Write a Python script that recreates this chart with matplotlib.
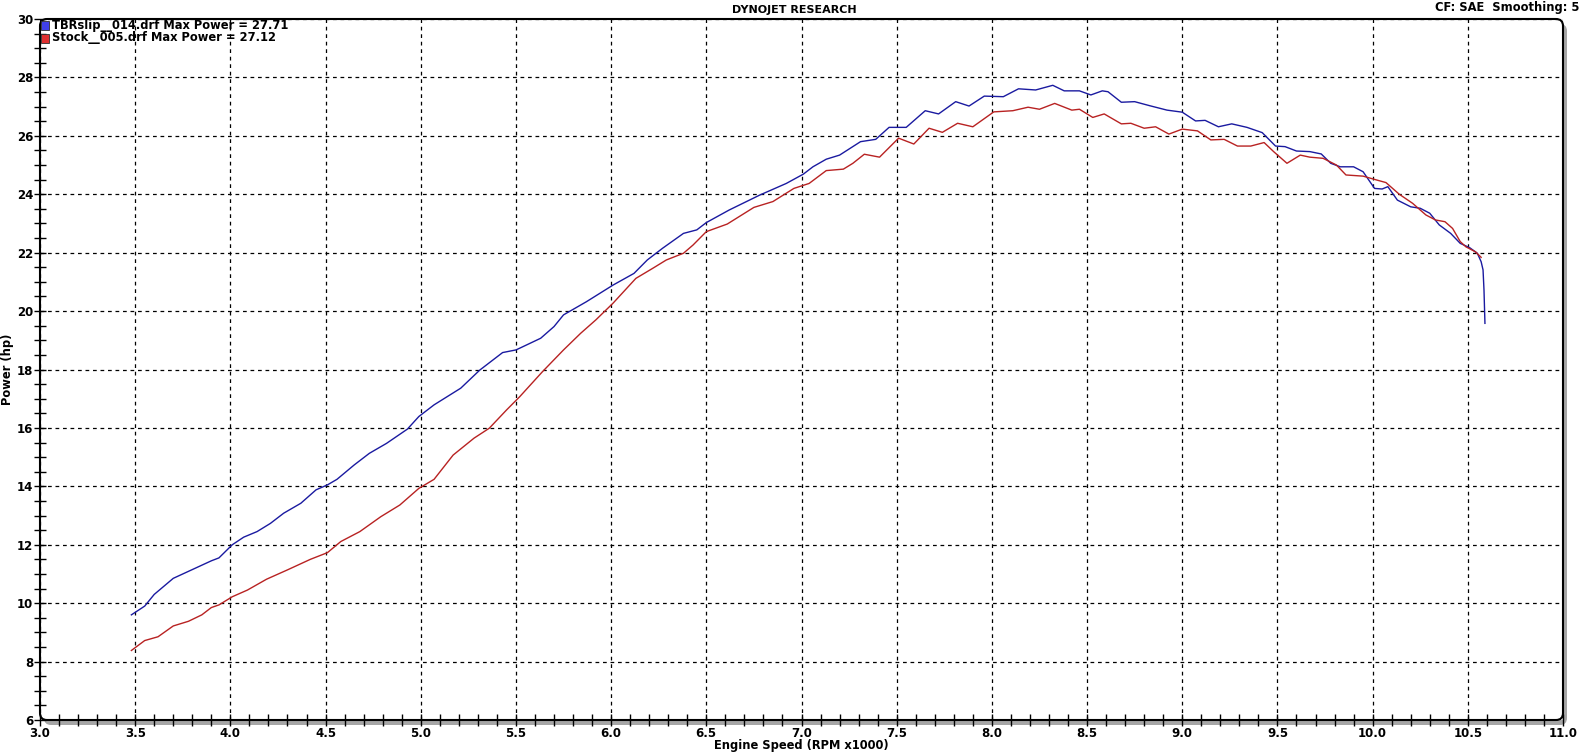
import matplotlib
matplotlib.use("Agg")
import matplotlib.pyplot as plt
from matplotlib.patches import FancyBboxPatch, Rectangle
from matplotlib.ticker import MultipleLocator, FormatStrFormatter
from matplotlib.transforms import IdentityTransform

# Dados (rpm x1000, potencia em hp)
rpm_tbr = [3.48, 3.55, 3.60, 3.70, 3.80, 3.90, 3.94, 4.01, 4.07, 4.14, 4.21, 4.28, 4.37, 4.45,
           4.51, 4.56, 4.65, 4.73, 4.82, 4.93, 4.99, 5.07, 5.21, 5.31, 5.38, 5.43, 5.50, 5.52,
           5.63, 5.70, 5.75, 5.87, 6.01, 6.12, 6.19, 6.27, 6.38, 6.45, 6.50, 6.62, 6.78, 6.92,
           7.01, 7.06, 7.13, 7.20, 7.31, 7.39, 7.46, 7.55, 7.65, 7.72, 7.81, 7.88, 7.96, 8.06,
           8.14, 8.23, 8.32, 8.38, 8.46, 8.52, 8.58, 8.61, 8.68, 8.75, 8.83, 8.92, 9.00, 9.07,
           9.12, 9.19, 9.26, 9.34, 9.42, 9.49, 9.54, 9.60, 9.67, 9.73, 9.78, 9.83, 9.90, 9.95,
           10.01, 10.05, 10.08, 10.13, 10.20, 10.25, 10.30, 10.35, 10.41, 10.46, 10.51, 10.55,
           10.57, 10.58, 10.585, 10.59]
hp_tbr = [9.60, 9.90, 10.30, 10.85, 11.15, 11.45, 11.55, 12.00, 12.26, 12.45, 12.73, 13.08, 13.42, 13.88,
          14.05, 14.24, 14.73, 15.13, 15.47, 15.96, 16.39, 16.79, 17.36, 17.98, 18.33, 18.58, 18.67, 18.73,
          19.07, 19.47, 19.87, 20.32, 20.89, 21.29, 21.75, 22.15, 22.66, 22.78, 23.03, 23.46, 23.97, 24.37,
          24.69, 24.94, 25.20, 25.34, 25.80, 25.88, 26.29, 26.29, 26.86, 26.75, 27.17, 27.02, 27.36, 27.34,
          27.61, 27.57, 27.73, 27.54, 27.54, 27.40, 27.54, 27.51, 27.15, 27.17, 27.03, 26.88, 26.81, 26.51,
          26.53, 26.31, 26.41, 26.29, 26.11, 25.65, 25.63, 25.48, 25.46, 25.38, 25.06, 24.94, 24.94, 24.77,
          24.20, 24.18, 24.26, 23.80, 23.57, 23.52, 23.35, 22.95, 22.66, 22.32, 22.17, 21.98,
          21.69, 21.41, 20.72, 19.58]

rpm_stock = [3.48, 3.55, 3.62, 3.70, 3.78, 3.85, 3.90, 3.94, 4.01, 4.09, 4.19, 4.30, 4.42, 4.51,
             4.58, 4.68, 4.79, 4.89, 4.99, 5.07, 5.17, 5.28, 5.36, 5.45, 5.52, 5.64, 5.75, 5.84,
             5.92, 6.01, 6.13, 6.22, 6.29, 6.38, 6.43, 6.50, 6.61, 6.75, 6.85, 6.96, 7.04, 7.13,
             7.22, 7.27, 7.33, 7.41, 7.51, 7.59, 7.67, 7.74, 7.82, 7.90, 8.01, 8.11, 8.19, 8.25,
             8.33, 8.42, 8.46, 8.53, 8.59, 8.68, 8.73, 8.80, 8.86, 8.93, 9.00, 9.08, 9.15, 9.22,
             9.29, 9.36, 9.43, 9.48, 9.55, 9.62, 9.67, 9.74, 9.81, 9.86, 9.95, 10.02, 10.07, 10.14,
             10.21, 10.28, 10.33, 10.38, 10.42, 10.46, 10.49, 10.54, 10.57]
hp_stock = [8.38, 8.72, 8.85, 9.22, 9.38, 9.60, 9.85, 9.94, 10.22, 10.45, 10.82, 11.14, 11.50, 11.73,
            12.11, 12.45, 12.96, 13.36, 13.93, 14.24, 15.07, 15.65, 15.99, 16.61, 17.07, 17.93, 18.67, 19.24,
            19.70, 20.27, 21.12, 21.47, 21.75, 21.98, 22.26, 22.72, 22.98, 23.55, 23.75, 24.20, 24.37, 24.81,
            24.86, 25.06, 25.37, 25.27, 25.92, 25.72, 26.26, 26.12, 26.43, 26.31, 26.82, 26.86, 26.98, 26.91,
            27.11, 26.88, 26.91, 26.63, 26.75, 26.41, 26.43, 26.26, 26.31, 26.06, 26.23, 26.17, 25.86, 25.88,
            25.65, 25.65, 25.77, 25.46, 25.06, 25.34, 25.27, 25.23, 25.00, 24.66, 24.62, 24.49, 24.40, 24.00,
            23.69, 23.29, 23.12, 23.06, 22.83, 22.38, 22.20, 22.03, 21.84]

legendas = ["TBRslip__014.drf Max Power = 27.71", "Stock__005.drf Max Power = 27.12"]
cores = ["#1a1aa0", "#b82222"]
cores_legenda = ["#4040e8", "#e03030"]

W, H = 1589, 753
fig = plt.figure(figsize=(W / 100, H / 100), dpi=100)
# area do grafico em pixels
x0, x1, ytop, ybot = 40, 1563, 19, 720
ax = fig.add_axes([x0 / W, 1 - ybot / H, (x1 - x0) / W, (ybot - ytop) / H])

ax.plot(rpm_tbr, hp_tbr, color=cores[0], lw=1.0, zorder=3)
ax.plot(rpm_stock, hp_stock, color=cores[1], lw=1.0, zorder=3)

ax.set_xlim(3.0, 11.0)
ax.set_ylim(6, 30)
ax.xaxis.set_major_locator(MultipleLocator(0.5))
ax.xaxis.set_minor_locator(MultipleLocator(0.1))
ax.xaxis.set_major_formatter(FormatStrFormatter("%.1f"))
ax.yaxis.set_major_locator(MultipleLocator(2))
ax.yaxis.set_minor_locator(MultipleLocator(0.5))
ax.tick_params(which="both", direction="inout", length=8, width=1, color="black",
               labelsize=8.5)
ax.tick_params(axis="x", pad=1)
ax.tick_params(axis="y", pad=1)
for lbl in ax.get_xticklabels() + ax.get_yticklabels():
    lbl.set_fontweight("bold")
ax.grid(True, which="major", color="black", lw=0.9, linestyle=(0, (3, 3)))
for s in ax.spines.values():
    s.set_visible(False)

# moldura com sombra e cantos arredondados
sombra = FancyBboxPatch((x0 + 4, H - ybot - 5), x1 - x0, ybot - ytop,
                        boxstyle="round,pad=0,rounding_size=7",
                        facecolor="#a6a6a6", edgecolor="none",
                        transform=IdentityTransform(), zorder=-1)
moldura = FancyBboxPatch((x0, H - ybot), x1 - x0, ybot - ytop,
                         boxstyle="round,pad=0,rounding_size=7",
                         facecolor="none", edgecolor="black", lw=1.5,
                         transform=IdentityTransform(), zorder=5)
fig.add_artist(sombra)
fig.add_artist(moldura)

# legenda no canto superior esquerdo
for i, (txt, cor) in enumerate(zip(legendas, cores_legenda)):
    ycentro = H - 25 - 13 * i
    fig.add_artist(Rectangle((41, ycentro - 5), 8, 9, facecolor=cor, edgecolor="#303030",
                             lw=0.6, transform=IdentityTransform(), zorder=6))
    fig.text(52 / W, ycentro / H, txt, fontsize=8.3, fontweight="bold",
             va="center", ha="left", zorder=6)

fig.text(0.5, 1 - 10 / H, "DYNOJET RESEARCH", fontsize=8, fontweight="bold",
         ha="center", va="center")
fig.text(1 - 10 / W, 1 - 8 / H, "CF: SAE  Smoothing: 5", fontsize=8.3, fontweight="bold",
         ha="right", va="center")
fig.text((x0 + x1) / 2 / W, 7 / H, "Engine Speed (RPM x1000)", fontsize=8.3,
         fontweight="bold", ha="center", va="center")
fig.text(8 / W, 1 - (ytop + ybot) / 2 / H, "Power (hp)", fontsize=8.3, fontweight="bold",
         rotation=90, ha="center", va="center")

fig.savefig("out.png", dpi=100)
